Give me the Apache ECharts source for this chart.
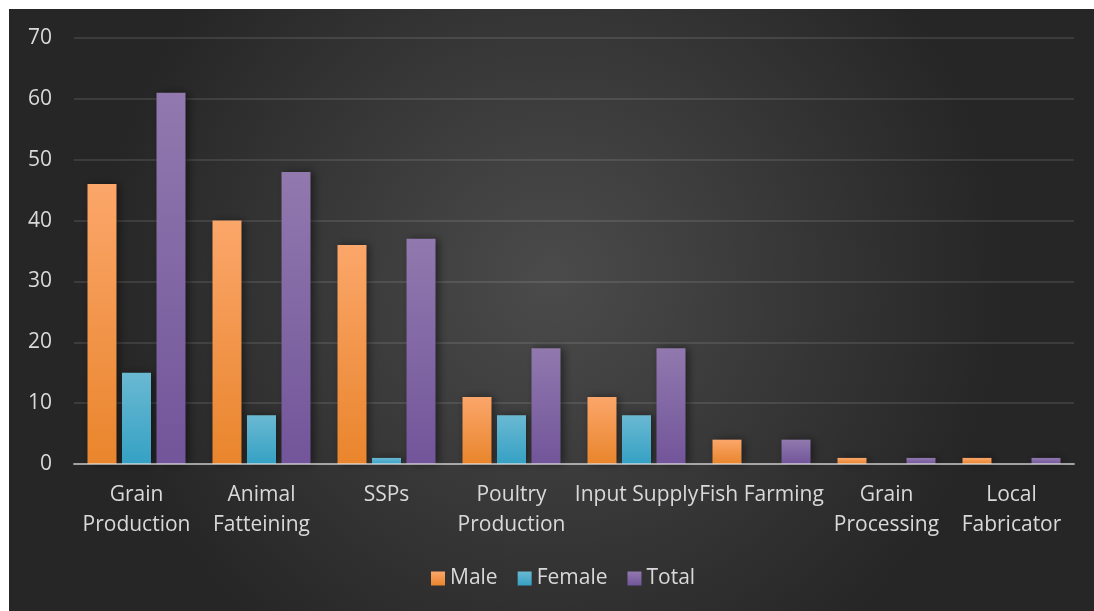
<!DOCTYPE html>
<html>
<head>
<meta charset="utf-8">
<script src="https://cdn.jsdelivr.net/npm/echarts@6/dist/echarts.min.js"></script>
<style>
  html, body { margin: 0; padding: 0; background: #ffffff; }
  #chart { position: absolute; left: 9px; top: 9px; width: 1085px; height: 602px; }
</style>
</head>
<body>
<div id="chart"></div>
<script>
// Participants by enterprise type and sex
const categories = ['Grain\nProduction', 'Animal\nFatteining', 'SSPs', 'Poultry\nProduction',
  'Input Supply', 'Fish Farming', 'Grain\nProcessing', 'Local\nFabricator'];
const maleValues = [46, 40, 36, 11, 11, 4, 1, 1];
const femaleValues = [15, 8, 1, 8, 8, 0, 0, 0];
const totalValues = [61, 48, 37, 19, 19, 4, 1, 1];
const yTicks = { min: 0, max: 70, interval: 10 };

const FONT = 'Open Sans';
const textColor = '#d9d9d9';

function grad(top, bottom) {
  return new echarts.graphic.LinearGradient(0, 0, 0, 1, [
    { offset: 0, color: top },
    { offset: 1, color: bottom }
  ]);
}

function barSeries(name, data, top, bottom) {
  return {
    name: name,
    type: 'bar',
    data: data,
    barWidth: 29,
    barGap: '19%',
    itemStyle: {
      color: grad(top, bottom),
      shadowColor: 'rgba(0,0,0,0.45)',
      shadowBlur: 8,
      shadowOffsetX: 3,
      shadowOffsetY: 0
    }
  };
}

const chart = echarts.init(document.getElementById('chart'));
chart.setOption({
  backgroundColor: new echarts.graphic.RadialGradient(0.5, 0.45, 0.75, [
    { offset: 0, color: '#4b4b4b' },
    { offset: 1, color: '#262626' }
  ]),
  animation: false,
  textStyle: { fontFamily: FONT },
  grid: { left: 65, right: 20, top: 29, bottom: 147, containLabel: false },
  legend: {
    bottom: 17,
    left: 417,
    itemWidth: 14,
    itemHeight: 14,
    itemGap: 20,
    icon: 'rect',
    textStyle: { color: textColor, fontSize: 21, fontFamily: FONT },
    data: ['Male', 'Female', 'Total']
  },
  xAxis: {
    type: 'category',
    data: categories,
    z: 5,
    axisLine: { lineStyle: { color: 'rgba(230,230,230,0.6)', width: 2 } },
    axisTick: { show: false },
    axisLabel: {
      color: textColor,
      fontSize: 21,
      fontFamily: FONT,
      lineHeight: 30,
      margin: 16,
      interval: 0
    }
  },
  yAxis: {
    type: 'value',
    min: yTicks.min,
    max: yTicks.max,
    interval: yTicks.interval,
    axisLine: { show: false },
    axisTick: { show: false },
    axisLabel: { color: textColor, fontSize: 21, fontFamily: FONT, margin: 22 },
    splitLine: { lineStyle: { color: 'rgba(255,255,255,0.1)', width: 2 } }
  },
  series: [
    barSeries('Male', maleValues, '#fba66a', '#e9852c'),
    barSeries('Female', femaleValues, '#6ab9d2', '#35a1c4'),
    barSeries('Total', totalValues, '#9179ae', '#72559a')
  ]
});
</script>
</body>
</html>
